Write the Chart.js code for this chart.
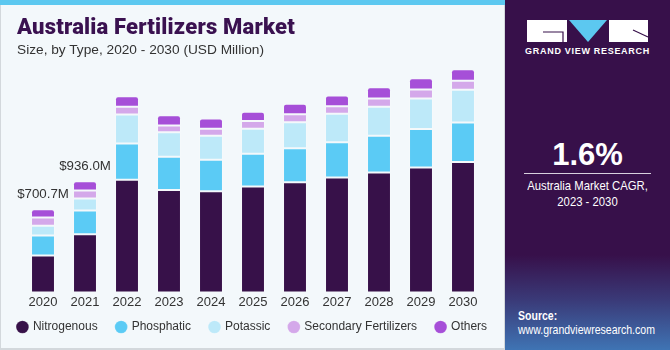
<!DOCTYPE html>
<html>
<head>
<meta charset="utf-8">
<script src="https://cdn.jsdelivr.net/npm/chart.js@4"></script>
<style>
  body { margin: 0; width: 670px; height: 350px; overflow: hidden; font-family: "Liberation Sans", Arial, sans-serif; }
  #izq { position: absolute; left: 0; top: 0; width: 503px; height: 348px; background: #f3f8fb; border-left: 1px solid #d3d8dc; border-bottom: 2px solid #d3d8dc; border-right: 1px solid #d3d8dc; }
  #franja { position: absolute; left: 0; top: 0; width: 505px; height: 5px; background: #5cc8f0; }
  #titulo { position: absolute; left: 17px; top: 14px; font-size: 22px; font-weight: 900; color: #3a1150; font-family: "Roboto", "Liberation Sans", sans-serif; letter-spacing: 0.2px; }
  #subtitulo { position: absolute; left: 17px; top: 42px; font-size: 13.7px; color: #333; }
  #grafico { position: absolute; left: -8px; top: 0; }
  #der { position: absolute; left: 505px; top: 0; width: 165px; height: 350px; overflow: hidden;
    background: linear-gradient(to bottom, #37104a 0px, #37104a 255px, #3a3a78 300px, #3f74b4 350px); color: #fff; }
  #logo { position: absolute; left: 22px; top: 20px; }
  #gvr { position: absolute; left: 0; width: 165px; top: 46px; text-align: center; font-size: 9px; font-weight: bold; letter-spacing: 0.7px; }
  #cagr { position: absolute; left: 0; width: 165px; top: 139px; line-height: 31px; text-align: center; font-size: 31px; font-weight: bold; }
  #linea { position: absolute; left: 19px; width: 127px; top: 173px; height: 1px; background: #d8d0de; }
  #cagrtxt { position: absolute; left: 0; width: 165px; top: 178px; text-align: center; font-size: 13px; line-height: 15.5px; transform: scaleX(0.87); }
  #fuente { position: absolute; left: 13px; top: 309px; font-size: 13px; line-height: 14px; transform: scaleX(0.81); transform-origin: left top; white-space: nowrap; }
</style>
</head>
<body>
<div id="izq"></div>
<div id="franja"></div>
<canvas id="grafico" width="521" height="353"></canvas>
<div id="titulo">Australia Fertilizers Market</div>
<div id="subtitulo">Size, by Type, 2020 - 2030 (USD Million)</div>
<div id="der">
  <svg id="logo" width="124" height="23" viewBox="0 0 124 23">
    <rect x="0" y="0" width="40" height="22" fill="#fff"/>
    <polyline points="16,12 36,12 36,22" fill="none" stroke="#37104a" stroke-width="1.2"/>
    <polygon points="42,0 80,0 61,22" fill="#5cc8f0"/>
    <rect x="82" y="0" width="39" height="22" fill="#fff"/>
    <line x1="106" y1="10" x2="121" y2="17" stroke="#37104a" stroke-width="1.2"/>
  </svg>
  <div id="gvr">GRAND VIEW RESEARCH</div>
  <div id="cagr">1.6%</div>
  <div id="linea"></div>
  <div id="cagrtxt">Australia Market CAGR,<br>2023 - 2030</div>
  <div id="fuente"><b>Source:</b><br>www.grandviewresearch.com</div>
</div>
<script>
// datos del grafico (USD Million)
const anios = ["2020", "2021", "2022", "2023", "2024", "2025", "2026", "2027", "2028", "2029", "2030"];
const nitrogenous = [310, 490, 949, 862, 853, 893, 927, 969, 1011, 1053, 1098];
const phosphatic = [170, 199, 305, 281, 264, 275, 288, 297, 308, 323, 333];
const potassic = [81, 103, 244, 207, 202, 210, 218, 239, 244, 257, 277];
const secondary = [70, 67, 67, 56, 59, 67, 67, 64, 70, 76, 76];
const others = [69.7, 77, 87, 87, 87, 76, 90, 90, 96, 96, 96];
// años que llevan etiqueta con el total
const anotados = ["2020", "2021"];

const series = [
  { label: "Nitrogenous", data: nitrogenous, color: "#371149" },
  { label: "Phosphatic", data: phosphatic, color: "#5bcbf5" },
  { label: "Potassic", data: potassic, color: "#bde9f9" },
  { label: "Secondary Fertilizers", data: secondary, color: "#d4a8ea" },
  { label: "Others", data: others, color: "#a64fd8" }
];

// etiquetas de total encima de las barras
const totales = {
  id: "totales",
  afterDatasetsDraw(chart) {
    const ctx = chart.ctx;
    const ultimo = chart.getDatasetMeta(series.length - 1);
    ctx.save();
    ctx.font = "13.3px 'Liberation Sans', Arial, sans-serif";
    ctx.fillStyle = "#333";
    ctx.textAlign = "center";
    ctx.textBaseline = "middle";
    anotados.forEach(a => {
      const i = anios.indexOf(a);
      const total = series.reduce((s, d) => s + d.data[i], 0);
      const barra = ultimo.data[i];
      ctx.fillText("$" + total.toFixed(1) + "M", barra.x, barra.y - 14.5);
    });
    ctx.restore();
  }
};

// sube un poco la leyenda para que quede pegada a los años
const subirLeyenda = {
  id: "subirLeyenda",
  afterLayout(chart) {
    chart.legend.top -= 10;
    chart.legend.bottom -= 10;
  }
};

// ejes invisibles que solo reservan el margen a cada lado
const margen = (ancho) => ({
  display: true,
  ticks: { display: false },
  grid: { display: false, drawTicks: false },
  border: { display: false },
  afterFit: (s) => { s.width = ancho; }
});

new Chart(document.getElementById("grafico"), {
  type: "bar",
  data: {
    labels: anios,
    datasets: series.map((s, k) => ({
      label: s.label,
      data: s.data,
      backgroundColor: s.color,
      borderColor: "rgba(255,255,255,0.18)",
      borderWidth: 1,
      borderSkipped: false,
      borderRadius: k === series.length - 1 ? { topLeft: 3, topRight: 3 } : 0,
      barPercentage: 0.6,
      categoryPercentage: 0.95
    }))
  },
  options: {
    responsive: false,
    animation: false,
    layout: { padding: { left: 0, right: 0, top: 55, bottom: 0 } },
    scales: {
      x: {
        stacked: true,
        grid: { display: false, drawTicks: false },
        border: { display: false },
        ticks: { color: "#333", font: { size: 13, family: "'Liberation Sans', Arial" }, padding: 2 }
      },
      y: Object.assign(margen(30), { stacked: true, min: 0, max: 2000, position: "left" }),
      yDer: Object.assign(margen(29), { min: 0, max: 1, position: "right" })
    },
    plugins: {
      legend: {
        position: "bottom",
        labels: {
          usePointStyle: true,
          pointStyle: "circle",
          boxWidth: 9,
          boxHeight: 9,
          padding: 19,
          color: "#333",
          font: { size: 12, family: "'Liberation Sans', Arial" }
        }
      },
      tooltip: { enabled: false }
    }
  },
  plugins: [totales, subirLeyenda]
});
</script>
</body>
</html>
